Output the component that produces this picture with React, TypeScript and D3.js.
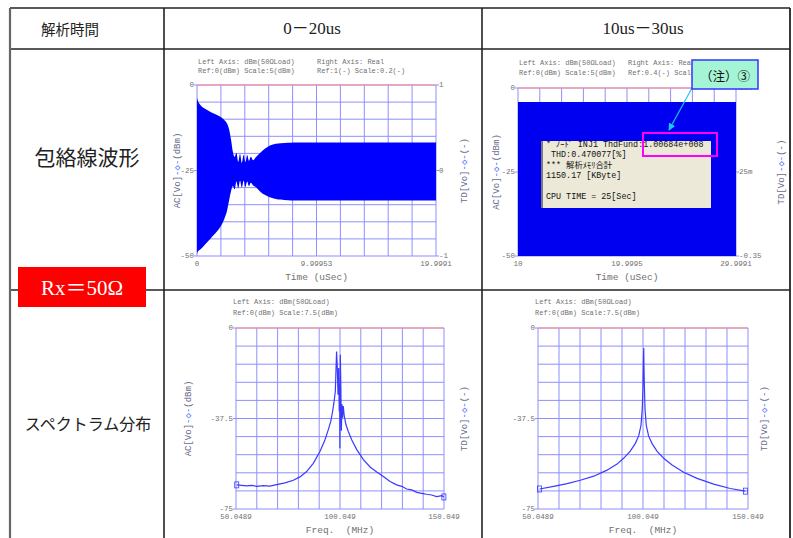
import React from 'react';
import * as d3 from 'd3';

const MONO = '"Liberation Mono", "DejaVu Sans Mono", "Noto Sans CJK JP", monospace';
const JP = '"Noto Sans CJK JP", sans-serif';
const SERIF = '"Liberation Serif", "Noto Sans CJK JP", serif';
const GRID = '#8f8fff';
const TXT = '#707070';

// table layout labels
const headerLabels = ['解析時間', '0－20us', '10us－30us'];
const rowLabels = ['包絡線波形', 'スペクトラム分布'];

// envelope 0-20us (time us, upper / lower dBm)
const env1T = [0, 0.05, 0.3, 0.6, 1.1, 1.5, 1.95, 2.3, 2.5, 2.7, 2.85, 3.0, 3.15, 3.3, 3.45, 3.6, 3.75, 3.9, 4.05, 4.2, 4.35, 4.5, 4.7, 4.9, 5.3, 5.7, 6.1, 6.6, 7.0, 7.6, 8.1, 10, 15, 19.9991];
const env1Hi = [-3.6, -4.4, -5.9, -6.8, -7.8, -8.5, -9.3, -10.3, -11.2, -13.2, -16, -19.5, -21, -19.8, -22.5, -20.2, -22.8, -20.5, -22.6, -20.5, -22.2, -21, -22, -21.2, -19.8, -18.6, -17.7, -17.2, -17.0, -16.9, -16.8, -16.8, -16.8, -16.8];
const env1Lo = [-49.4, -48.8, -48, -46.9, -45, -43.5, -41.5, -39, -37, -33.5, -31, -29.5, -30.5, -28.2, -30.2, -28, -30, -28, -29.8, -28.2, -29.6, -28.6, -29.4, -29.8, -31.2, -32.2, -32.8, -33.3, -33.5, -33.7, -33.8, -33.8, -33.8, -33.8];

// envelope 10-30us
const env2T = [10, 29.9991];
const env2Hi = [-4.2, -4.2];
const env2Lo = [-50, -50];

// spectrum 1 (MHz, dBm)
const spec1F = [50.4, 55.2, 57.6, 60.0, 63.2, 66.4, 69.6, 73.6, 77.6, 80.8, 84.0, 87.2, 90.4, 92.8, 94.4, 95.6, 96.5, 97.2, 97.8, 98.1, 98.4, 98.7, 99.1, 99.4, 99.7, 99.9, 100.0, 100.2, 100.4, 100.7, 101.0, 101.3, 101.6, 102.1, 102.9, 104.0, 105.6, 108.1, 111.3, 114.5, 117.7, 120.9, 124.1, 127.3, 129.7, 132.1, 134.5, 137.0, 139.3, 141.7, 144.1, 146.5, 149.0, 150.0];
const spec1Db = [-65.0, -65.4, -65.2, -65.6, -65.3, -65.5, -64.9, -64.2, -63.1, -61.7, -59.5, -56.1, -51.2, -46.4, -42.2, -38.7, -34.6, -30.4, -26.3, -18, -9.7, -15.2, -27.7, -16.6, -34.6, -23.5, -49.8, -11.1, -20.8, -42.6, -31.6, -37.2, -32.3, -36.5, -40, -42.8, -46.2, -50.4, -54.5, -57.6, -59.7, -61.5, -63.6, -65.0, -65.6, -66.7, -67.1, -68.1, -68.5, -68.9, -69.2, -69.9, -69.5, -70];

// spectrum 2 (MHz, dBm)
const spec2F = [50.8, 57.5, 63.9, 70.2, 76.6, 82.9, 87.7, 90.8, 94.0, 96.4, 98.0, 99.1, 99.7, 100.05, 100.2, 100.4, 100.5, 100.7, 101.0, 101.6, 102.7, 104.3, 106.7, 109.9, 113.9, 119.4, 125.8, 133.7, 141.6, 148.8];
const spec2Db = [-66.7, -65.6, -64.5, -63.1, -61.4, -58.9, -56.4, -54.0, -51.0, -47.8, -44.7, -40.3, -33.4, -23.7, -15.4, -8.3, -15.4, -23.7, -33.4, -40.3, -44.7, -47.8, -51.0, -54.0, -56.8, -59.8, -62.3, -64.7, -66.5, -67.6];

// tick labels
const envLeft = ['0', '-25', '-50'];
const env1Right = ['1', '0', '-1'];
const env2Right = ['0.4', '25m', '-0.35'];
const env1X = ['0', '9.99953', '19.9991'];
const env2X = ['10', '19.9995', '29.9991'];
const specLeft = ['0', '-37.5', '-75'];
const specX = ['50.0489', '100.049', '150.049'];

const boxLines = ['* ﾉｰﾄﾞ INJ1 ThdFund:1.00684e+008', ' THD:0.470077[%]', '*** 解析ﾒﾓﾘ合計', '1150.17 [KByte]', '', 'CPU TIME = 25[Sec]'];

type ScopeProps = {
  l: number; t: number; r: number; b: number;
  xDom: [number, number]; yDom: [number, number];
  leftLbl: string[]; rightLbl?: string[]; xLbl: string[]; xTitle: string;
  head: { x: number; lines: string[] }[]; headY: [number, number];
  leftTitleX?: number; rightTitleX: number;
  draw: (x: d3.ScaleLinear<number, number>, y: d3.ScaleLinear<number, number>) => React.ReactNode;
};

function Scope(p: ScopeProps) {
  const x = d3.scaleLinear().domain(p.xDom).range([p.l, p.r]);
  const y = d3.scaleLinear().domain(p.yDom).range([p.t, p.b]);
  const xs = d3.range(11).map(i => p.xDom[0] + (p.xDom[1] - p.xDom[0]) * i / 10);
  const ys = d3.range(11).map(i => p.yDom[0] + (p.yDom[1] - p.yDom[0]) * i / 10);
  const yPos = [p.yDom[0], (p.yDom[0] + p.yDom[1]) / 2, p.yDom[1]];
  const xPos = [p.xDom[0], (p.xDom[0] + p.xDom[1]) / 2, p.xDom[1]];
  const midY = (p.t + p.b) / 2;
  return (
    <g fontFamily={MONO}>
      {p.head.map((h, i) => h.lines.map((s, j) => (
        <text key={`h${i}${j}`} x={h.x} y={p.headY[j]} fontSize={7} fill={TXT} dominantBaseline="central">{s}</text>
      )))}
      {xs.map((v, i) => <line key={`gx${i}`} x1={x(v)} x2={x(v)} y1={p.t} y2={p.b} stroke={GRID} strokeWidth={1} />)}
      {ys.map((v, i) => <line key={`gy${i}`} x1={p.l} x2={p.r} y1={y(v)} y2={y(v)} stroke={GRID} strokeWidth={1} />)}
      {p.draw(x, y)}
      <line x1={p.l} x2={p.r} y1={p.t} y2={p.t} stroke="#ff8a8a" strokeWidth={1.2} />
      {yPos.map((v, i) => (
        <g key={`yl${i}`}>
          <line x1={p.l - 3} x2={p.l} y1={y(v)} y2={y(v)} stroke={GRID} />
          <text x={p.l - 3} y={y(v)} fontSize={7.5} fill={TXT} textAnchor="end" dominantBaseline="central">{p.leftLbl[i]}</text>
        </g>
      ))}
      {p.rightLbl && yPos.map((v, i) => (
        <g key={`yr${i}`}>
          <line x1={p.r} x2={p.r + 3} y1={y(v)} y2={y(v)} stroke={GRID} />
          <text x={p.r + 3} y={y(v)} fontSize={7.5} fill={TXT} dominantBaseline="central">{p.rightLbl[i]}</text>
        </g>
      ))}
      {xPos.map((v, i) => (
        <text key={`xl${i}`} x={x(v)} y={p.b + 8} fontSize={7.5} fill={TXT} textAnchor="middle" dominantBaseline="central">{p.xLbl[i]}</text>
      ))}
      <text x={(p.l + p.r) / 2} y={p.b + 21} fontSize={9.5} fill={TXT} textAnchor="middle" dominantBaseline="central" style={{ whiteSpace: 'pre' }}>{p.xTitle}</text>
      {p.leftTitleX !== undefined && (
        <text transform={`translate(${p.leftTitleX},${midY}) rotate(-90)`} fontSize={9} fill="#6a6a8a" textAnchor="middle" dominantBaseline="central">
          AC[Vo]<tspan fill="#4a6bff">-◇-</tspan>(dBm)
        </text>
      )}
      <text transform={`translate(${p.rightTitleX},${midY}) rotate(-90)`} fontSize={9} fill="#6a6a8a" textAnchor="middle" dominantBaseline="central">
        TD[Vo]<tspan fill="#4a6bff">-◇-</tspan>(-)
      </text>
    </g>
  );
}

function envArea(T: number[], hi: number[], lo: number[], color: string) {
  return (x: d3.ScaleLinear<number, number>, y: d3.ScaleLinear<number, number>) => {
    const area = d3.area<number>()
      .x(i => x(T[i]))
      .y0(i => y(lo[i]))
      .y1(i => y(hi[i]))
      .curve(d3.curveMonotoneX);
    return <path d={area(d3.range(T.length)) || ''} fill={color} />;
  };
}

function specLine(F: number[], D: number[]) {
  return (x: d3.ScaleLinear<number, number>, y: d3.ScaleLinear<number, number>) => {
    const line = d3.line<number>().x(i => x(F[i])).y(i => y(D[i]));
    const n = F.length - 1;
    return (
      <g>
        <path d={line(d3.range(F.length)) || ''} fill="none" stroke="#3a3aff" strokeWidth={1.2} />
        {[0, n].map(i => (
          <rect key={i} x={x(F[i]) - 2} y={y(D[i]) - 3} width={4} height={6} fill="none" stroke="#3a3aff" strokeWidth={0.8} />
        ))}
      </g>
    );
  };
}

export default function App() {
  const colX = [10, 164, 482, 790];
  const rowY = [8, 49, 290];
  return (
    <svg width={793} height={538} style={{ position: 'absolute', left: 0, top: 0, background: '#fff' }}>
      <defs>
        <marker id="arr" viewBox="0 0 10 10" refX="9" refY="5" markerWidth="6" markerHeight="6" orient="auto">
          <path d="M0,0 L10,5 L0,10 z" fill="#19c8f0" />
        </marker>
      </defs>
      <rect width={793} height={538} fill="#fff" />

      {/* table lines */}
      <line x1={colX[0]} x2={colX[3]} y1={rowY[0]} y2={rowY[0]} stroke="#222" strokeWidth={1.6} />
      <line x1={colX[0]} x2={colX[3]} y1={rowY[1]} y2={rowY[1]} stroke="#222" strokeWidth={1.6} />
      <line x1={colX[0]} x2={colX[3]} y1={rowY[2]} y2={rowY[2]} stroke="#222" strokeWidth={1.6} />
      <line x1={colX[0]} x2={colX[0]} y1={rowY[0]} y2={538} stroke="#666" strokeWidth={2.2} />
      <line x1={colX[1]} x2={colX[1]} y1={rowY[0]} y2={538} stroke="#222" strokeWidth={1.6} />
      <line x1={colX[2]} x2={colX[2]} y1={rowY[0]} y2={538} stroke="#222" strokeWidth={1.6} />
      <line x1={colX[3]} x2={colX[3]} y1={rowY[0]} y2={538} stroke="#222" strokeWidth={1.8} />

      <text x={70} y={28} fontFamily={JP} fontSize={14.5} fill="#222" textAnchor="middle" dominantBaseline="central">{headerLabels[0]}</text>
      <text x={312} y={28} fontFamily={SERIF} fontSize={17} fill="#222" textAnchor="middle" dominantBaseline="central">{headerLabels[1]}</text>
      <text x={643} y={28} fontFamily={SERIF} fontSize={17} fill="#222" textAnchor="middle" dominantBaseline="central">{headerLabels[2]}</text>
      <text x={87} y={156} fontFamily={JP} fontSize={21} fill="#222" textAnchor="middle" dominantBaseline="central">{rowLabels[0]}</text>
      <text x={88} y={423} fontFamily={JP} fontSize={16} fill="#222" textAnchor="middle" dominantBaseline="central">{rowLabels[1]}</text>

      <rect x={18} y={267} width={128} height={40} fill="#ff0000" />
      <text x={82} y={288} fontFamily={SERIF} fontSize={21} fill="#fff" textAnchor="middle" dominantBaseline="central">Rx＝50Ω</text>

      <Scope l={197} t={85} r={436} b={256} xDom={[0, 19.9991]} yDom={[0, -50]}
        leftLbl={envLeft} rightLbl={env1Right} xLbl={env1X} xTitle="Time (uSec)"
        head={[{ x: 198, lines: ['Left Axis: dBm(50ΩLoad)', 'Ref:0(dBm) Scale:5(dBm)'] }, { x: 317, lines: ['Right Axis: Real', 'Ref:1(-) Scale:0.2(-)'] }]}
        headY={[62, 71]} leftTitleX={178} rightTitleX={465}
        draw={envArea(env1T, env1Hi, env1Lo, '#0000ff')} />

      <Scope l={518} t={88} r={736} b={256} xDom={[10, 29.9991]} yDom={[0, -50]}
        leftLbl={envLeft} rightLbl={env2Right} xLbl={env2X} xTitle="Time (uSec)"
        head={[{ x: 519, lines: ['Left Axis: dBm(50ΩLoad)', 'Ref:0(dBm) Scale:5(dBm)'] }, { x: 628, lines: ['Right Axis: Real', 'Ref:0.4(-) Scale'] }]}
        headY={[63, 73]} leftTitleX={497} rightTitleX={782}
        draw={envArea(env2T, env2Hi, env2Lo, '#0000f0')} />

      <Scope l={236} t={328} r={444} b={509} xDom={[50.0489, 150.049]} yDom={[0, -75]}
        leftLbl={specLeft} xLbl={specX} xTitle="Freq.  (MHz)"
        head={[{ x: 233, lines: ['Left Axis: dBm(50ΩLoad)', 'Ref:0(dBm) Scale:7.5(dBm)'] }]}
        headY={[302, 313]} leftTitleX={189} rightTitleX={465}
        draw={specLine(spec1F, spec1Db)} />

      <Scope l={538} t={328} r={748} b={509} xDom={[50.0489, 150.049]} yDom={[0, -75]}
        leftLbl={specLeft} xLbl={specX} xTitle="Freq.  (MHz)"
        head={[{ x: 535, lines: ['Left Axis: dBm(50ΩLoad)', 'Ref:0(dBm) Scale:7.5(dBm)'] }]}
        headY={[302, 313]} rightTitleX={765}
        draw={specLine(spec2F, spec2Db)} />

      {/* analysis info box */}
      <rect x={541} y={141} width={170} height={67} fill="#ece9d8" />
      <line x1={542} x2={542} y1={141} y2={208} stroke="#7a7a7a" strokeWidth={2} />
      {boxLines.map((s, i) => (
        <text key={i} x={546} y={145 + i * 10.4} fontFamily={MONO} fontSize={8.4} fill="#111" dominantBaseline="central" style={{ whiteSpace: 'pre' }}>{s}</text>
      ))}
      <rect x={643} y={133} width={74} height={23} fill="none" stroke="#ff00ff" strokeWidth={2} />
      <line x1={692} y1={88} x2={669} y2={130} stroke="#19c8f0" strokeWidth={1.2} markerEnd="url(#arr)" />
      <rect x={692} y={60} width={66} height={29} fill="#a4f5d6" stroke="#3333ff" strokeWidth={1.5} />
      <text x={725} y={75} fontFamily={JP} fontSize={12.5} fill="#111" textAnchor="middle" dominantBaseline="central">（注）③</text>
    </svg>
  );
}
